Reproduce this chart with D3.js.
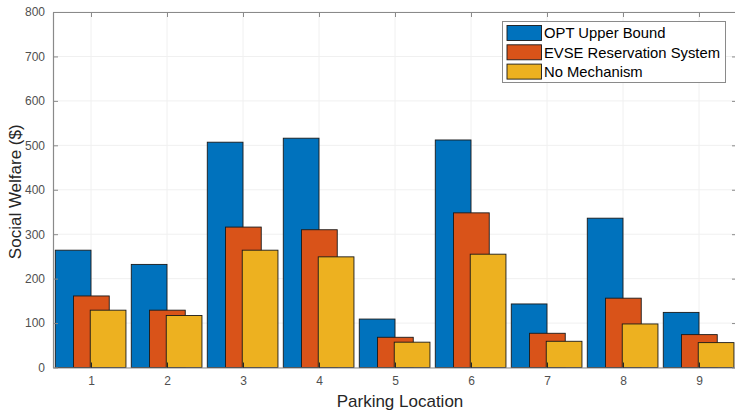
<!DOCTYPE html>
<html><head><meta charset="utf-8">
<script src="https://cdn.jsdelivr.net/npm/d3@7"></script>
<style>body{margin:0;background:#fff}svg{display:block}</style>
</head><body>
<script>
const categories = [1,2,3,4,5,6,7,8,9];
const seriesNames = ["OPT Upper Bound","EVSE Reservation System","No Mechanism"];
const optUpper = [264,232,507,516,109,512,143,336,124];
const evse = [161,129,316,310,68,348,77,156,74];
const noMech = [129,117,264,249,57,255,59,98,56];
const yTicks = [0,100,200,300,400,500,600,700,800];
const colors = ["#0072BD","#D95319","#EDB120"];
const offsets = [-0.235,0.005,0.225];
const series = [optUpper, evse, noMech];

const W=735,H=410;
const m={left:53,top:12,right:737,bottom:367.5};
const svg=d3.select("body").append("svg").attr("width",W).attr("height",H);
const x=d3.scaleLinear().domain([0.5,9.5]).range([m.left,m.right]);
const y=d3.scaleLinear().domain([0,800]).range([m.bottom,m.top]);
const bw = x(0.47)-x(0);
const font="'Liberation Sans', Arial, Helvetica, sans-serif";

// grid
svg.append("g").selectAll("line.gy").data(yTicks).join("line")
 .attr("x1",m.left).attr("x2",m.right).attr("y1",d=>y(d)).attr("y2",d=>y(d))
 .attr("stroke","#f0f0f0").attr("stroke-width",1);
svg.append("g").selectAll("line.gx").data(categories).join("line")
 .attr("x1",d=>x(d)).attr("x2",d=>x(d)).attr("y1",m.top).attr("y2",m.bottom)
 .attr("stroke","#f0f0f0").attr("stroke-width",1);

// bars
series.forEach((vals,si)=>{
  svg.append("g").selectAll("rect").data(vals).join("rect")
   .attr("x",(d,i)=>x(categories[i]+offsets[si])-bw/2)
   .attr("width",bw)
   .attr("y",d=>y(d)).attr("height",d=>y(0)-y(d))
   .attr("fill",colors[si]).attr("stroke","#1a1a1a").attr("stroke-width",0.9);
});

// axes
const axCol="#8a8a8a";
const xb=svg.append("g").attr("transform",`translate(0,${m.bottom})`)
 .call(d3.axisBottom(x).tickValues(categories).tickSizeInner(-5).tickSizeOuter(0).tickPadding(9).tickFormat(d3.format("d")));
const xt=svg.append("g").attr("transform",`translate(0,${m.top})`)
 .call(d3.axisTop(x).tickValues(categories).tickSizeInner(-5).tickSizeOuter(0).tickFormat(""));
const yl=svg.append("g").attr("transform",`translate(${m.left},0)`)
 .call(d3.axisLeft(y).tickValues(yTicks).tickSizeInner(-5).tickSizeOuter(0).tickPadding(8));
const yr=svg.append("g").attr("transform",`translate(${m.right},0)`)
 .call(d3.axisRight(y).tickValues(yTicks).tickSizeInner(-5).tickSizeOuter(0).tickFormat(""));
[xb,xt,yl,yr].forEach(g=>{
  g.selectAll(".domain").attr("stroke",axCol).attr("stroke-width",1.2);
  g.selectAll(".tick line").attr("stroke","#262626").attr("stroke-width",1);
  g.selectAll("text").attr("fill","#505050").style("font-family",font).style("font-size","12px");
});
yl.selectAll(".tick line").attr("stroke",axCol);
yr.selectAll(".tick line").attr("stroke",axCol);
xt.selectAll(".tick line").attr("stroke",axCol);

// axis labels
svg.append("text").attr("x",(m.left+735)/2+6).attr("y",407).attr("text-anchor","middle")
 .style("font-family",font).style("font-size","17px").attr("fill","#262626").text("Parking Location");
svg.append("text").attr("transform",`translate(21,${(m.top+m.bottom)/2+2}) rotate(-90)`).attr("text-anchor","middle")
 .style("font-family",font).style("font-size","17px").attr("fill","#262626").text("Social Welfare ($)");

// legend
const lg=svg.append("g");
lg.append("rect").attr("x",502.5).attr("y",21.5).attr("width",223).attr("height",61)
 .attr("fill","#fff").attr("stroke",axCol).attr("stroke-width",1);
seriesNames.forEach((n,i)=>{
  const yy=25.5+i*19.3;
  lg.append("rect").attr("x",507).attr("y",yy).attr("width",34.5).attr("height",15)
   .attr("fill",colors[i]).attr("stroke","#1a1a1a").attr("stroke-width",0.9);
  lg.append("text").attr("x",544).attr("y",yy+12.8).style("font-family",font).style("font-size","14.8px")
   .attr("fill","#000").text(n);
});
</script>
</body></html>
